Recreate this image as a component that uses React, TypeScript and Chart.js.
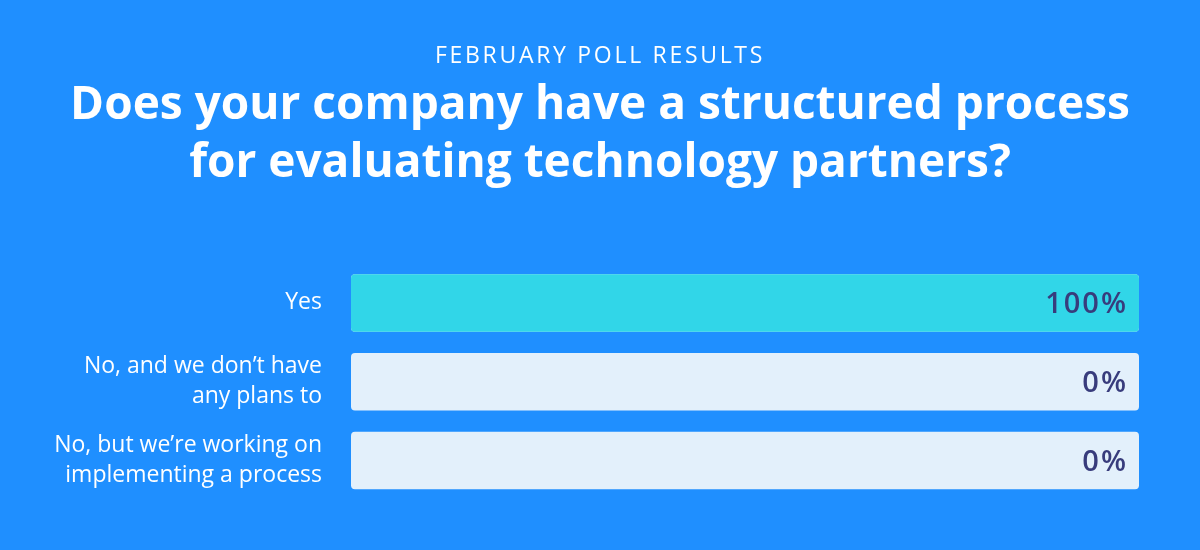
import React, { useEffect, useRef } from "react";
import { Chart, registerables } from "chart.js";

Chart.register(...registerables);

const kicker = "FEBRUARY POLL RESULTS";
const question = [
  "Does your company have a structured process",
  "for evaluating technology partners?",
];
const categories = [
  ["Yes"],
  ["No, and we don\u2019t have", "any plans to"],
  ["No, but we\u2019re working on", "implementing a process"],
];
const values = [100, 0, 0];
const trackValues = [100, 100, 100];

const BG = "#1F8FFF";
const BAR = "#31D6E8";
const TRACK = "#E3F0FB";
const NAVY = "#383C7C";
const FONT = "'Open Sans', Lato, sans-serif";

const valueLabelPlugin = {
  id: "valueLabels",
  afterLayout(chart: any) {
    const tb = chart.titleBlock;
    if (tb && !tb.__spaced) {
      const orig = tb.draw.bind(tb);
      tb.draw = (...args: any[]) => {
        const c = tb.ctx as any;
        const prev = c.letterSpacing;
        c.letterSpacing = "2.7px";
        orig(...args);
        c.letterSpacing = prev;
      };
      tb.__spaced = true;
    }
  },
  afterDatasetsDraw(chart: any) {
    const { ctx, chartArea } = chart;
    const meta = chart.getDatasetMeta(0);
    ctx.save();
    ctx.fillStyle = NAVY;
    ctx.font = `600 29px ${FONT}`;
    (ctx as any).letterSpacing = "2px";
    ctx.textAlign = "right";
    ctx.textBaseline = "alphabetic";
    meta.data.forEach((bar: any, i: number) => {
      ctx.fillText(`${values[i]}%`, chartArea.right - 11, bar.y + 10.5);
    });
    ctx.restore();
  },
};

export default function App() {
  const ref = useRef<HTMLCanvasElement | null>(null);
  useEffect(() => {
    if (!ref.current) return;
    const common = {
      borderRadius: 4,
      borderSkipped: false,
      barPercentage: 0.73,
      categoryPercentage: 1,
      grouped: false,
      xAxisID: "x",
      yAxisID: "y",
    };
    const chart = new Chart(ref.current, {
      type: "bar",
      data: {
        labels: categories as any,
        datasets: [
          { data: values, backgroundColor: BAR, ...common } as any,
          { data: trackValues, backgroundColor: TRACK, ...common } as any,
        ],
      },
      options: {
        indexAxis: "y",
        animation: false,
        responsive: false,
        layout: { padding: { left: 0, right: 0, top: 0, bottom: 50 } },
        plugins: {
          legend: { display: false },
          tooltip: { enabled: false },
          title: {
            display: true,
            text: kicker,
            color: "#FFFFFF",
            font: { family: FONT, size: 23, weight: "normal", lineHeight: 1.2 },
            padding: { top: 43, bottom: 6 },
          },
          subtitle: {
            display: true,
            text: question,
            color: "#FFFFFF",
            font: { family: FONT, size: 46, weight: "bold", lineHeight: 1.26 },
            padding: { top: 0, bottom: 71 },
          },
        },
        scales: {
          x: {
            display: false,
            min: 0,
            max: 100,
          },
          y: {
            position: "left",
            grid: { display: false, drawTicks: false },
            border: { display: false },
            ticks: {
              color: "#FFFFFF",
              padding: 29,
              font: { family: FONT, size: 23, lineHeight: 1.3 },
            },
            afterFit(scale: any) {
              scale.width = 351;
            },
          },
          yRight: {
            type: "category",
            axis: "y",
            position: "right",
            display: true,
            grid: { display: false, drawTicks: false },
            border: { display: false },
            ticks: { display: false },
            afterFit(scale: any) {
              scale.width = 61;
            },
          },
        },
      },
      plugins: [valueLabelPlugin],
    } as any);
    return () => chart.destroy();
  }, []);
  return (
    <div
      style={{
        position: "fixed",
        left: 0,
        top: 0,
        width: 1200,
        height: 550,
        background: BG,
      }}
    >
      <canvas ref={ref} width={1200} height={550} style={{ display: "block" }} />
    </div>
  );
}
